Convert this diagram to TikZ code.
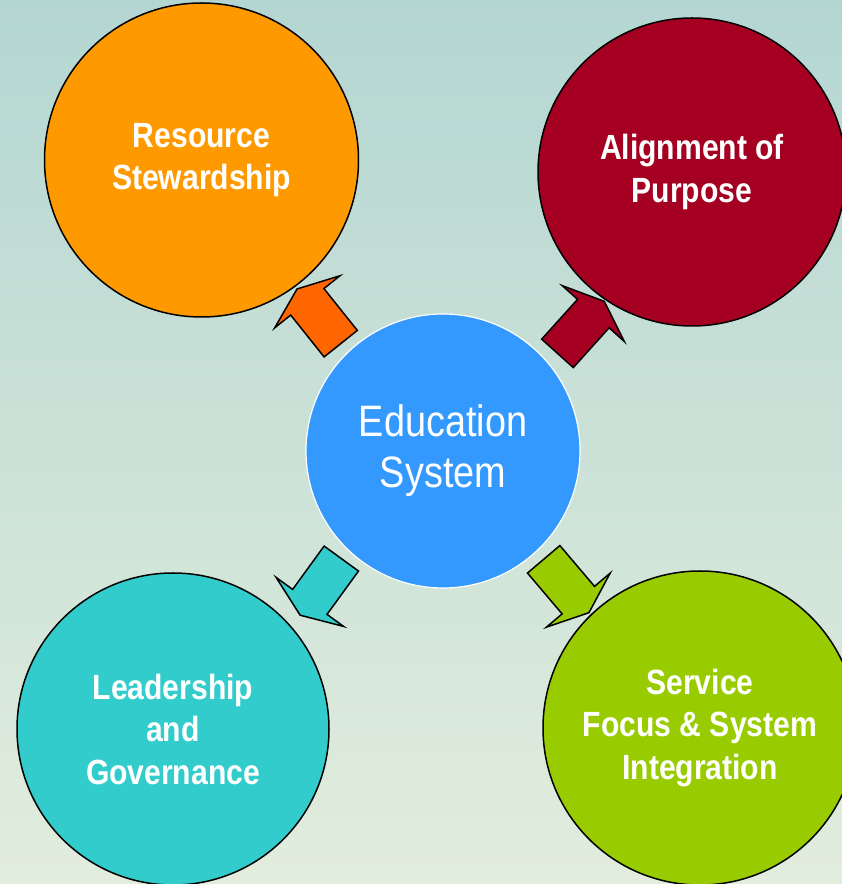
\documentclass[tikz,border=0pt]{standalone}
\usepackage{fontspec}
\setmainfont{Liberation Sans}
\newfontfamily\lblfont[FakeStretch=0.86]{Liberation Sans}
\usetikzlibrary{shapes.arrows}

\definecolor{bgtop}{RGB}{180,214,210}
\definecolor{bgmid}{RGB}{226,235,220}
\definecolor{bgbot}{RGB}{226,237,221}
\definecolor{resorange}{HTML}{FF9900}
\definecolor{arroworange}{HTML}{FF6600}
\definecolor{alignred}{HTML}{A50021}
\definecolor{leadteal}{HTML}{33CCCC}
\definecolor{servgreen}{HTML}{99CC00}
\definecolor{hubblue}{HTML}{3399FF}

\begin{document}
\begin{tikzpicture}[x=1pt,y=1pt,
        bubble/.style={circle, draw=black, line width=1.5pt, inner sep=0pt, text=white, align=center,
            font=\lblfont\bfseries\fontsize{35}{42.5}\selectfont},
        hub/.style={circle, draw=white, line width=1.2pt, fill=hubblue, inner sep=0pt, text=white,
            align=center, minimum size=274pt, font=\lblfont\fontsize{44}{51}\selectfont},
        flow/.style={single arrow, draw=black, line width=1.5pt, minimum height=70pt,
            inner xsep=0pt, inner ysep=20.5pt, single arrow head extend=20.5pt,
            single arrow tip angle=137}]
        \useasboundingbox (0,0) rectangle (842,884);
        \shade[top color=bgtop, middle color=bgmid, bottom color=bgbot] (0,0) rectangle (842,884);
        \clip (0,0) rectangle (842,884);

        % outer circles
        \node[bubble, fill=resorange, minimum size=314pt] (res) at (201.5,724) {Resource\\Stewardship};
        \node[bubble, fill=alignred, minimum size=308pt] (ali) at (692,712) {Alignment of\\Purpose};
        \node[bubble, fill=leadteal, minimum size=312pt] (lead) at (173,155) {Leadership\\and\\Governance};
        \node[bubble, fill=servgreen, minimum size=314pt] (serv) at (700,156) {Service\\Focus \& System\\Integration};

        \node[hub] (edu) at (443,433) {Education\\System};

        % block arrows
        \node[flow, fill=arroworange, rotate=128.6] (tores) at (321.5,564.4) {};
        \node[flow, fill=alignred, rotate=48] (toali) at (578.1,553.5) {};
        \node[flow, fill=leadteal, rotate=234] (tolead) at (323.2,300.5) {};
        \node[flow, fill=servgreen, rotate=-49.7] (toserv) at (563.6,301.2) {};

    \end{tikzpicture}
\end{document}
